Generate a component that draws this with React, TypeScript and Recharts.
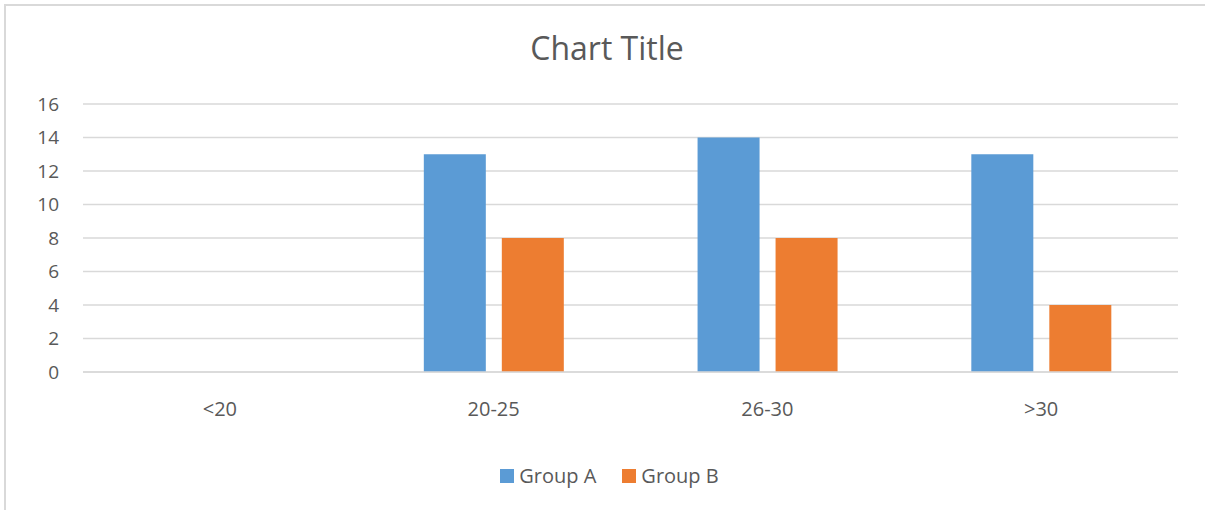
import { BarChart, Bar, XAxis, YAxis, CartesianGrid } from 'recharts';

const categories = ['<20', '20-25', '26-30', '>30'];
const groupA = [0, 13, 14, 13];
const groupB = [0, 8, 8, 4];
const yTicks = [0, 2, 4, 6, 8, 10, 12, 14, 16];

const data = categories.map((name, i) => ({ name, groupA: groupA[i], groupB: groupB[i] }));

const FONT = '"Open Sans", "Noto Sans", sans-serif';
const TEXT = '#595959';

const series = [
    { key: 'groupA', label: 'Group A', color: '#5B9BD5' },
    { key: 'groupB', label: 'Group B', color: '#ED7D31' },
];

function LegendBox() {
    return (
        <div style={{ display: 'flex', justifyContent: 'center', gap: 26, fontFamily: FONT, fontSize: 20, color: TEXT }}>
            {series.map(s => (
                <div key={s.key} style={{ display: 'flex', alignItems: 'center' }}>
                    <span style={{ width: 14, height: 14, background: s.color, marginRight: 5, display: 'inline-block' }} />
                    {s.label}
                </div>
            ))}
        </div>
    );
}

export default function App() {
    return (
        <div style={{ position: 'fixed', left: 0, top: 0, width: 1205, height: 510, background: '#fff', overflow: 'hidden' }}>
            {/* chart frame, only left and top edges show */}
            <div style={{ position: 'absolute', left: 4, top: 4, width: 1220, height: 530, border: '2px solid #d9d9d9' }} />
            <div style={{ position: 'absolute', left: 0, top: 26, width: 1214, textAlign: 'center', fontFamily: FONT, fontSize: 32, color: TEXT }}>
                Chart Title
            </div>
            <div style={{ position: 'absolute', left: 0, top: 0 }}>
                <BarChart width={1205} height={510} data={data} margin={{ top: 104, right: 27, bottom: 108, left: 0 }}
                    barCategoryGap="24.5%" barGap={16}>
                    <CartesianGrid vertical={false} stroke="#d9d9d9" strokeWidth={1.3} />
                    <XAxis dataKey="name" height={30} axisLine={{ stroke: '#d9d9d9', strokeWidth: 1.3 }} tickLine={false} tickSize={0} tickMargin={30}
                        tick={{ fill: TEXT, fontSize: 20, fontFamily: FONT }} />
                    <YAxis width={83} domain={[0, 16]} ticks={yTicks} axisLine={false} tickLine={false} tickSize={0} tickMargin={24}
                        tick={{ fill: TEXT, fontSize: 19, fontFamily: FONT }} />
                    {series.map(s => (
                        <Bar key={s.key} dataKey={s.key} name={s.label} fill={s.color} isAnimationActive={false} />
                    ))}
                </BarChart>
            </div>
            <div style={{ position: 'absolute', left: 7, top: 462, width: 1205 }}>
                <LegendBox />
            </div>
        </div>
    );
}
